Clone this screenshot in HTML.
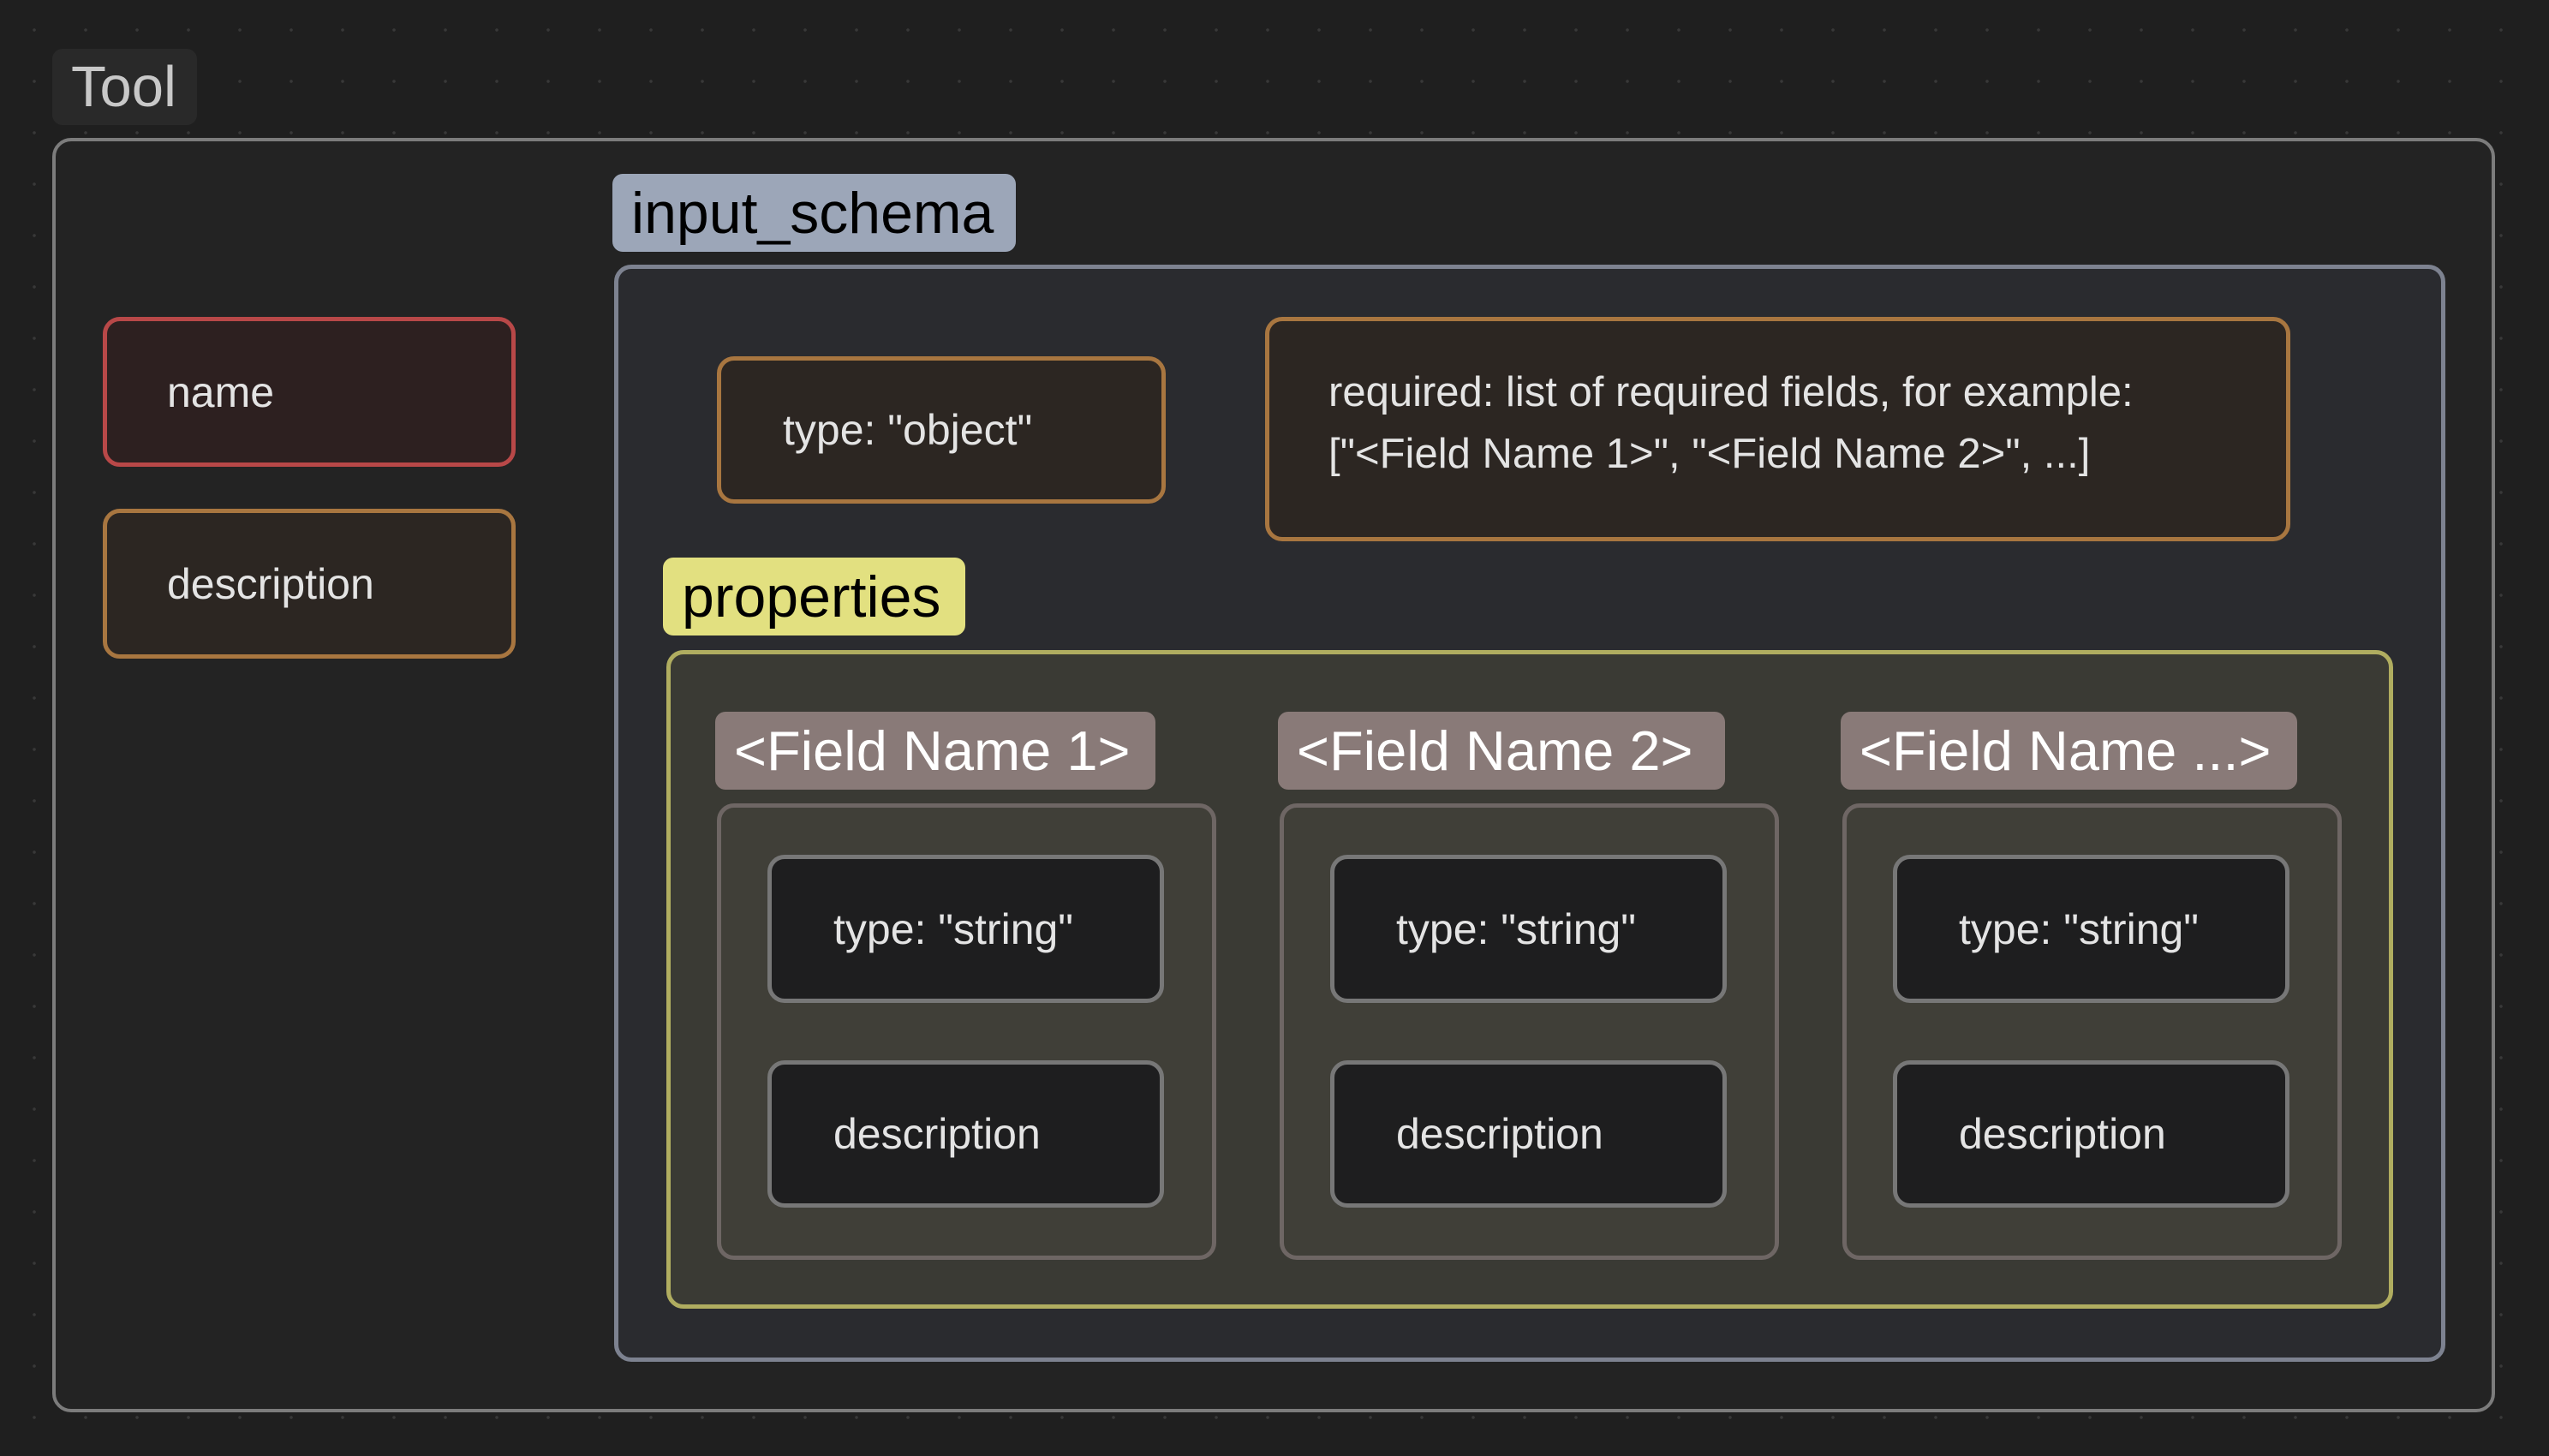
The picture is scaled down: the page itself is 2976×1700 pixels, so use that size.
<!DOCTYPE html>
<html><head><meta charset="utf-8"><style>
html,body{margin:0;padding:0}
body{width:2976px;height:1700px;position:relative;overflow:hidden;background-color:#1f1f1f;
background-image:radial-gradient(circle,#383838 1.6px,transparent 2px);background-size:60px 60px;background-position:10px 5px;
font-family:"Liberation Sans",sans-serif;}
div{position:absolute;box-sizing:border-box}
.lbl{border-radius:12px;display:flex;align-items:center;padding-left:22px;white-space:nowrap}
.box{border-radius:20px;border-width:5px;border-style:solid}
.t{color:#e4e4e4;font-size:50px;display:flex;align-items:center;white-space:nowrap}
.fl{background:#897a78;color:#fff;font-size:65px;border-radius:12px;display:flex;align-items:center;padding-left:22px;white-space:nowrap}
</style></head><body>
<div class="lbl" style="left:61px;top:57px;width:169px;height:89px;background:#292929;color:#c8c8c8;font-size:67px">Tool</div>
<div class="box" style="left:61px;top:161px;width:2852px;height:1488px;border-color:#7c7c7c;border-width:4px;background:#232323;border-radius:22px"></div>

<div class="box t" style="left:120px;top:370px;width:482px;height:175px;border-color:#b84848;background:#2d2020;padding-left:70px">name</div>
<div class="box t" style="left:120px;top:594px;width:482px;height:175px;border-color:#a87640;background:#2c2622;padding-left:70px">description</div>

<div class="lbl" style="left:715px;top:203px;width:471px;height:91px;background:#9ca6b8;color:#000;font-size:68px">input_schema</div>
<div class="box" style="left:717px;top:309px;width:2138px;height:1281px;border-color:#7d8290;background:#2a2b2f"></div>

<div class="box t" style="left:837px;top:416px;width:524px;height:172px;border-color:#a87640;background:#2c2622;padding-left:72px">type: "object"</div>
<div class="box" style="left:1477px;top:370px;width:1197px;height:262px;border-color:#a87640;background:#2c2622"></div>
<div class="t" style="left:1551px;top:430px;font-size:49px">required: list of required fields, for example:</div>
<div class="t" style="left:1551px;top:502px;font-size:49px">["&lt;Field Name 1&gt;", "&lt;Field Name 2&gt;", ...]</div>

<div class="lbl" style="left:774px;top:651px;width:353px;height:91px;background:#e2e080;color:#000;font-size:68px">properties</div>
<div class="box" style="left:778px;top:759px;width:2016px;height:769px;border-color:#b0ad60;background:#3a3a34"></div>

<div class="fl" style="left:835px;top:831px;width:514px;height:91px">&lt;Field Name 1&gt;</div>
<div class="fl" style="left:1492px;top:831px;width:522px;height:91px">&lt;Field Name 2&gt;</div>
<div class="fl" style="left:2149px;top:831px;width:533px;height:91px">&lt;Field Name ...&gt;</div>

<div class="box" style="left:837px;top:938px;width:583px;height:533px;border-color:#6e6664;background:#403f38"></div>
<div class="box" style="left:1494px;top:938px;width:583px;height:533px;border-color:#6e6664;background:#403f38"></div>
<div class="box" style="left:2151px;top:938px;width:583px;height:533px;border-color:#6e6664;background:#403f38"></div>

<div class="box t" style="left:896px;top:998px;width:463px;height:173px;border-color:#777;background:#1e1e1f;padding-left:72px">type: "string"</div>
<div class="box t" style="left:896px;top:1238px;width:463px;height:172px;border-color:#777;background:#1e1e1f;padding-left:72px">description</div>
<div class="box t" style="left:1553px;top:998px;width:463px;height:173px;border-color:#777;background:#1e1e1f;padding-left:72px">type: "string"</div>
<div class="box t" style="left:1553px;top:1238px;width:463px;height:172px;border-color:#777;background:#1e1e1f;padding-left:72px">description</div>
<div class="box t" style="left:2210px;top:998px;width:463px;height:173px;border-color:#777;background:#1e1e1f;padding-left:72px">type: "string"</div>
<div class="box t" style="left:2210px;top:1238px;width:463px;height:172px;border-color:#777;background:#1e1e1f;padding-left:72px">description</div>
</body></html>
